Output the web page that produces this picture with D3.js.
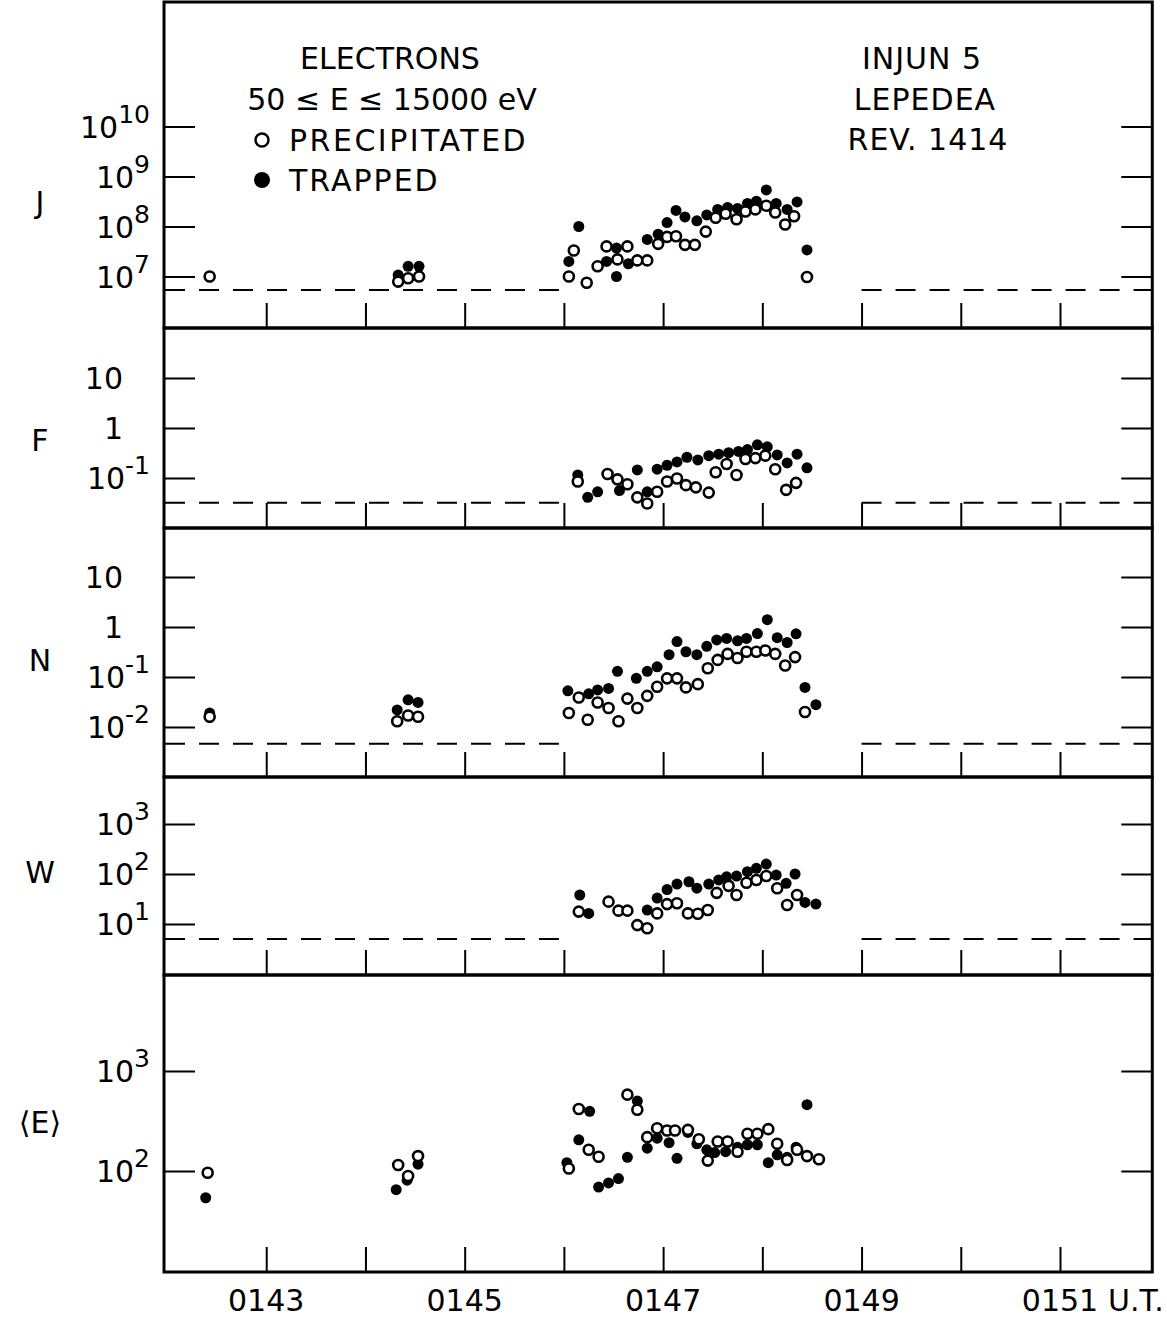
<!DOCTYPE html>
<html>
<head>
<meta charset="utf-8">
<script src="https://cdn.jsdelivr.net/npm/d3@7"></script>
<style>
  body { margin: 0; background: #fff; }
  svg { display: block; font-family: 'DejaVu Sans', sans-serif; }
  text { fill: #000; }
</style>
</head>
<body>
<svg id="chart" width="1167" height="1318"></svg>
<script>
// minutes after 0100 U.T. ; [time, value]
const jPrecipitated = [
  [142.43,1.0e7],[144.33,7.9e6],[144.43,9.2e6],[144.54,1.0e7],[146.05,1.0e7],[146.10,3.3e7],
  [146.23,7.5e6],[146.34,1.6e7],[146.43,4.0e7],[146.54,2.2e7],[146.64,4.0e7],[146.74,2.1e7],
  [146.84,2.1e7],[146.95,4.5e7],[147.04,6.2e7],[147.13,6.4e7],[147.22,4.3e7],[147.32,4.3e7],
  [147.43,7.9e7],[147.53,1.5e8],[147.63,1.8e8],[147.74,1.4e8],[147.83,2.0e8],[147.93,2.2e8],
  [148.04,2.6e8],[148.13,1.9e8],[148.23,1.1e8],[148.32,1.6e8],[148.45,9.8e6]
];
const jTrapped = [
  [144.33,1.07e7],[144.43,1.6e7],[144.54,1.6e7],[146.05,2.0e7],[146.15,1.0e8],[146.43,2.0e7],
  [146.53,3.7e7],[146.53,1.0e7],[146.65,1.8e7],[146.84,5.5e7],[146.95,7.0e7],[147.04,1.2e8],
  [147.13,2.1e8],[147.22,1.55e8],[147.34,1.3e8],[147.44,1.7e8],[147.55,2.2e8],[147.65,2.4e8],
  [147.75,2.3e8],[147.85,2.9e8],[147.94,3.2e8],[148.04,5.4e8],[148.14,2.9e8],[148.25,2.2e8],
  [148.35,3.1e8],[148.45,3.4e7]
];
const fPrecipitated = [
  [146.14,0.085],[146.44,0.12],[146.54,0.094],[146.64,0.075],[146.74,0.041],[146.84,0.031],
  [146.94,0.053],[147.04,0.085],[147.14,0.098],[147.23,0.072],[147.33,0.065],[147.46,0.051],
  [147.53,0.13],[147.64,0.19],[147.74,0.115],[147.83,0.24],[147.93,0.25],[148.03,0.28],
  [148.13,0.15],[148.24,0.058],[148.34,0.08]
];
const fTrapped = [
  [146.14,0.115],[146.24,0.041],[146.34,0.053],[146.56,0.056],[146.74,0.145],[146.84,0.053],
  [146.94,0.15],[147.04,0.18],[147.14,0.21],[147.24,0.26],[147.35,0.23],[147.46,0.28],
  [147.56,0.30],[147.66,0.32],[147.76,0.34],[147.85,0.37],[147.95,0.46],[148.05,0.42],
  [148.15,0.29],[148.25,0.20],[148.35,0.30],[148.45,0.16]
];
const nPrecipitated = [
  [142.43,0.016],[144.32,0.013],[144.43,0.017],[144.53,0.016],[146.05,0.019],[146.15,0.039],
  [146.24,0.014],[146.34,0.031],[146.45,0.024],[146.55,0.013],[146.64,0.037],[146.74,0.024],
  [146.84,0.042],[146.94,0.064],[147.04,0.094],[147.14,0.094],[147.23,0.062],[147.35,0.072],
  [147.45,0.15],[147.55,0.22],[147.65,0.29],[147.75,0.24],[147.84,0.32],[147.94,0.32],
  [148.03,0.34],[148.13,0.29],[148.23,0.17],[148.33,0.25],[148.43,0.020]
];
const nTrapped = [
  [142.43,0.019],[144.32,0.022],[144.43,0.035],[144.53,0.031],[146.04,0.053],[146.25,0.046],
  [146.34,0.055],[146.45,0.059],[146.54,0.13],[146.73,0.094],[146.84,0.13],[146.94,0.16],
  [147.06,0.28],[147.14,0.51],[147.23,0.32],[147.34,0.28],[147.44,0.41],[147.54,0.55],
  [147.64,0.59],[147.75,0.53],[147.84,0.59],[147.95,0.74],[148.05,1.4],[148.15,0.61],
  [148.25,0.49],[148.34,0.73],[148.43,0.062],[148.54,0.028]
];
const wPrecipitated = [
  [146.15,17.7],[146.45,28],[146.55,18.5],[146.64,18.5],[146.74,9.5],[146.84,8.2],
  [146.94,16.3],[147.04,25],[147.14,26],[147.25,16.3],[147.35,16],[147.45,19],
  [147.54,42],[147.66,58],[147.74,38],[147.84,67],[147.94,76],[148.04,91],
  [148.15,52],[148.25,24],[148.35,38]
];
const wTrapped = [
  [146.16,38],[146.25,16.3],[146.84,19],[146.94,33],[147.04,49],[147.14,63],[147.26,70],
  [147.34,52],[147.46,63],[147.56,76],[147.64,88],[147.74,91],[147.85,111],[147.94,130],
  [148.04,158],[148.14,95],[148.24,65],[148.33,100],[148.43,27],[148.54,25]
];
const ePrecipitated = [
  [142.41,96],[144.33,115],[144.43,89],[144.53,141],[146.05,106],[146.15,417],[146.25,163],
  [146.35,139],[146.64,580],[146.74,410],[146.84,218],[146.94,268],[147.04,254],[147.12,254],
  [147.25,258],[147.36,208],[147.45,127],[147.55,197],[147.65,197],[147.75,156],[147.85,236],
  [147.95,236],[148.06,262],[148.15,187],[148.25,129],[148.35,163],[148.45,141],[148.57,131]
];
const eTrapped = [
  [142.39,54],[144.31,65],[144.42,81],[144.53,117],[146.03,121],[146.15,205],[146.26,395],
  [146.35,69],[146.45,76],[146.55,84],[146.64,137],[146.74,500],[146.84,169],[146.94,213],
  [147.06,192],[147.14,134],[147.25,243],[147.34,187],[147.44,163],[147.52,153],[147.63,156],
  [147.75,173],[147.85,183],[147.95,183],[148.06,121],[148.15,145],[148.25,137],[148.34,173],
  [148.45,460]
];

// background (threshold) levels, drawn where the counts are at background
const thresholds = { J: 5.4e6, F: 0.032, N: 0.0046, W: 5.0 };
const thresholdSpans = [[141.98, 145.95], [149.0, 151.93]];

const jTicks = ['10^7', '10^8', '10^9', '10^10'];
const fTicks = ['10^-1', '1', '10'];
const nTicks = ['10^-2', '10^-1', '1', '10'];
const wTicks = ['10^1', '10^2', '10^3'];
const eTicks = ['10^2', '10^3'];

const minuteTicks = [143, 144, 145, 146, 147, 148, 149, 150, 151];
const timeLabels = ['0143', '0145', '0147', '0149', '0151'];

function tickValue(s) {
  let p = s.split('^');
  return p.length > 1 ? Math.pow(10, +p[1]) : +s;
}

function makeChart() {
  let svg = d3.select('#chart');

  let x = d3.scaleLinear().domain([142, 151]).range([167, 1060]);
  let left = x(141.97), right = x(151.93);

  // each panel: vertical extent in px and log domain that fills it
  let panels = [
    { name: 'J', top: 2, bottom: 328, dom: [5.97, 12.49], ticks: jTicks, open: jPrecipitated, full: jTrapped, ly: 202 },
    { name: 'F', top: 328, bottom: 528, dom: [-2, 2], ticks: fTicks, open: fPrecipitated, full: fTrapped, ly: 440 },
    { name: 'N', top: 528, bottom: 777, dom: [-3, 1.98], ticks: nTicks, open: nPrecipitated, full: nTrapped, ly: 660 },
    { name: 'W', top: 777, bottom: 975, dom: [-0.02, 3.94], ticks: wTicks, open: wPrecipitated, full: wTrapped, ly: 872 },
    { name: '\u27E8E\u27E9', top: 975, bottom: 1272, dom: [0.99, 3.96], ticks: eTicks, open: ePrecipitated, full: eTrapped, ly: 1122 }
  ];

  panels.forEach((p) => {
    let y = d3.scaleLog()
      .domain([Math.pow(10, p.dom[0]), Math.pow(10, p.dom[1])])
      .range([p.bottom, p.top]);
    let g = svg.append('g');
    let tv = p.ticks.map(tickValue);

    // y ticks, left and right
    g.append('g')
      .attr('transform', `translate(${left},0)`)
      .call(d3.axisRight(y).tickValues(tv).tickSize(31).tickFormat(''))
      .call((a) => a.select('.domain').remove());
    g.append('g')
      .attr('transform', `translate(${right},0)`)
      .call(d3.axisLeft(y).tickValues(tv).tickSize(31).tickFormat(''))
      .call((a) => a.select('.domain').remove());

    // minute ticks up from the bottom edge
    g.append('g')
      .attr('transform', `translate(0,${p.bottom})`)
      .call(d3.axisBottom(x).tickValues(minuteTicks).tickSize(-25).tickFormat(''))
      .call((a) => a.select('.domain').remove());

    g.selectAll('.tick line').attr('stroke', '#000').attr('stroke-width', 2);

    // tick labels with superscripts
    p.ticks.forEach((s, i) => {
      let parts = s.split('^');
      let ty = y(tv[i]);
      let t = g.append('text')
        .attr('x', parts.length > 1 ? 150 : 123)
        .attr('y', ty + 11)
        .attr('text-anchor', 'end')
        .attr('font-size', 30);
      t.append('tspan').text(parts[0]);
      if (parts.length > 1) {
        t.append('tspan').attr('dy', -15).attr('font-size', 25).text(parts[1]);
      }
    });

    // quantity label
    g.append('text')
      .attr('x', 40)
      .attr('y', p.ly + 11)
      .attr('text-anchor', 'middle')
      .attr('font-size', 30)
      .text(p.name);

    // background level
    if (thresholds[p.name] !== undefined) {
      g.selectAll('line.thr')
        .data(thresholdSpans)
        .enter()
        .append('line')
        .attr('class', 'thr')
        .attr('x1', (d) => x(d[0]))
        .attr('x2', (d) => x(d[1]))
        .attr('y1', y(thresholds[p.name]))
        .attr('y2', y(thresholds[p.name]))
        .attr('stroke', '#000')
        .attr('stroke-width', 2)
        .attr('stroke-dasharray', '20,14');
    }

    // trapped (filled) then precipitated (open) on top
    g.selectAll('circle.full')
      .data(p.full)
      .enter()
      .append('circle')
      .attr('class', 'full')
      .attr('cx', (d) => x(d[0]))
      .attr('cy', (d) => y(d[1]))
      .attr('r', 5.5)
      .attr('fill', '#000');

    g.selectAll('circle.open')
      .data(p.open)
      .enter()
      .append('circle')
      .attr('class', 'open')
      .attr('cx', (d) => x(d[0]))
      .attr('cy', (d) => y(d[1]))
      .attr('r', 5)
      .attr('fill', '#fff')
      .attr('stroke', '#000')
      .attr('stroke-width', 2.6);

    // frame
    g.append('rect')
      .attr('x', left)
      .attr('y', p.top)
      .attr('width', right - left)
      .attr('height', p.bottom - p.top)
      .attr('fill', 'none')
      .attr('stroke', '#000')
      .attr('stroke-width', 3);
  });

  // time labels
  svg.selectAll('text.time')
    .data(timeLabels)
    .enter()
    .append('text')
    .attr('class', 'time')
    .attr('x', (d) => x(+d.slice(1)))
    .attr('y', 1311)
    .attr('text-anchor', 'middle')
    .attr('font-size', 30)
    .text((d) => d);

  svg.append('text')
    .attr('x', 1136).attr('y', 1311)
    .attr('text-anchor', 'middle')
    .attr('font-size', 30)
    .text('U.T.');

  // legend and title block
  let lg = svg.append('g').attr('font-size', 30);
  lg.append('text').attr('x', 390).attr('y', 69).attr('text-anchor', 'middle').text('ELECTRONS');
  lg.append('text').attr('x', 392).attr('y', 110).attr('text-anchor', 'middle').text('50 \u2264 E \u2264 15000 eV');
  lg.append('circle').attr('cx', 262).attr('cy', 140).attr('r', 6.5)
    .attr('fill', '#fff').attr('stroke', '#000').attr('stroke-width', 2.5);
  lg.append('text').attr('x', 289).attr('y', 151).attr('letter-spacing', 2.5).text('PRECIPITATED');
  lg.append('circle').attr('cx', 262).attr('cy', 180).attr('r', 8).attr('fill', '#000');
  lg.append('text').attr('x', 289).attr('y', 191).attr('letter-spacing', 2).text('TRAPPED');

  lg.append('text').attr('x', 922).attr('y', 69).attr('text-anchor', 'middle').attr('letter-spacing', 1).text('INJUN 5');
  lg.append('text').attr('x', 925).attr('y', 110).attr('text-anchor', 'middle').attr('letter-spacing', 1).text('LEPEDEA');
  lg.append('text').attr('x', 928).attr('y', 150).attr('text-anchor', 'middle').attr('letter-spacing', 1).text('REV. 1414');
}

window.onload = function () {
  makeChart();
}
</script>
</body>
</html>
